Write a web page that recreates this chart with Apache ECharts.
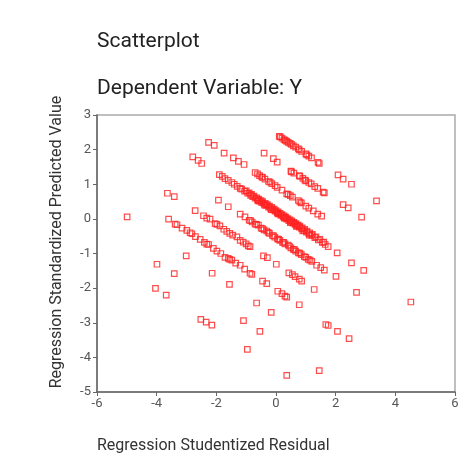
<!DOCTYPE html>
<html>
<head>
<meta charset="utf-8">
<script src="https://cdn.jsdelivr.net/npm/echarts@6/dist/echarts.min.js"></script>
<style>
  html, body { margin: 0; padding: 0; background: #fff; }
  #main { width: 467px; height: 459px; }
</style>
</head>
<body>
<div id="main"></div>
<script>
// residual (x), predicted (y), one list per stripe
var stripeTop = [
  [0.11, 2.38], [0.14, 2.37], [0.20, 2.33], [0.27, 2.29], [0.31, 2.27], [0.36, 2.24], [0.41, 2.21],
  [0.47, 2.18], [0.52, 2.15], [0.58, 2.11], [0.66, 2.07], [0.75, 2.02], [0.78, 1.99], [0.86, 1.95],
  [1.00, 1.88], [1.03, 1.85], [1.10, 1.81], [1.19, 1.76], [1.41, 1.63], [1.45, 1.60],
  [2.08, 1.27], [2.25, 1.15], [2.53, 1.00], [3.37, 0.52]
];
var stripe2 = [
  [-0.40, 1.90], [-0.09, 1.74], [0.04, 1.64], [0.50, 1.38], [0.52, 1.36], [0.60, 1.32],
  [0.78, 1.25], [0.80, 1.23], [0.90, 1.17], [0.97, 1.12], [1.00, 1.10], [1.10, 1.05],
  [1.18, 1.01], [1.30, 0.93], [1.40, 0.88], [1.58, 0.77], [1.62, 0.75], [2.25, 0.41],
  [2.42, 0.32], [2.87, 0.05]
];
var stripe3 = [
  [-2.26, 2.21], [-2.07, 2.12], [-1.74, 1.90], [-1.43, 1.76], [-1.26, 1.66], [-1.07, 1.57],
  [-0.70, 1.34], [-0.62, 1.30], [-0.55, 1.25], [-0.48, 1.21], [-0.45, 1.20], [-0.37, 1.15],
  [-0.25, 1.08], [-0.20, 1.06], [-0.14, 1.02], [-0.03, 0.96], [0.04, 0.91], [0.20, 0.83],
  [0.36, 0.72], [0.41, 0.71], [0.48, 0.67], [0.55, 0.63], [0.75, 0.53], [0.80, 0.49],
  [0.85, 0.46], [1.00, 0.37], [1.10, 0.31], [1.25, 0.23], [1.40, 0.14], [1.53, 0.08]
];
var stripeMain = [
  [-2.79, 1.79], [-2.61, 1.69], [-2.49, 1.60], [-1.90, 1.28], [-1.80, 1.23], [-1.71, 1.16],
  [-1.60, 1.11], [-1.48, 1.05], [-1.40, 1.00], [-1.30, 0.94], [-1.20, 0.88], [-1.15, 0.86],
  [-1.05, 0.80], [-0.95, 0.74], [-0.85, 0.68], [-0.78, 0.64], [-0.70, 0.60], [-0.62, 0.55],
  [-0.55, 0.51], [-0.48, 0.47], [-0.40, 0.43], [-0.33, 0.39], [-0.25, 0.34], [-0.18, 0.30],
  [-0.10, 0.26], [-0.03, 0.22], [0.04, 0.18], [0.10, 0.14], [0.17, 0.10], [0.24, 0.06],
  [0.30, 0.03], [0.36, -0.01], [0.43, -0.05], [0.50, -0.09], [0.57, -0.12], [0.64, -0.16],
  [0.71, -0.20], [0.78, -0.24], [0.86, -0.29], [0.94, -0.34], [1.02, -0.38], [1.10, -0.43],
  [1.20, -0.48], [1.30, -0.54], [1.42, -0.61], [1.55, -0.68], [1.65, -0.74], [1.75, -0.80],
  [2.05, -0.98], [2.53, -1.27], [2.94, -1.49], [4.52, -2.40],
  [-1.00, 0.81], [-0.90, 0.75], [-0.82, 0.71], [-0.74, 0.66], [-0.65, 0.61], [-0.58, 0.57],
  [-0.50, 0.53], [-0.45, 0.50], [-0.36, 0.45], [-0.29, 0.41], [-0.22, 0.37], [-0.14, 0.33],
  [-0.06, 0.28], [0.00, 0.24], [0.07, 0.20], [0.14, 0.16], [0.20, 0.12], [0.27, 0.09],
  [0.33, 0.05], [0.40, 0.01], [0.47, -0.03], [0.53, -0.06], [0.60, -0.10], [0.67, -0.14],
  [0.74, -0.18], [0.80, -0.21], [0.88, -0.26], [0.96, -0.30], [1.04, -0.35], [1.13, -0.40],
  [1.22, -0.45], [1.34, -0.52], [1.47, -0.59], [1.60, -0.67],
  [-0.60, 0.52], [-0.38, 0.40], [-0.16, 0.27], [0.06, 0.15], [0.28, 0.02], [0.48, -0.11],
  [0.68, -0.22], [0.90, -0.35], [1.12, -0.47]
];
var stripe5 = [
  [-1.93, 0.54], [-1.60, 0.35], [-1.20, 0.14], [-1.04, 0.06], [-0.90, -0.04], [-0.80, -0.09],
  [-0.70, -0.15], [-0.59, -0.18], [-0.50, -0.27], [-0.40, -0.32], [-0.31, -0.35], [-0.22, -0.42],
  [-0.12, -0.48], [-0.04, -0.53], [0.05, -0.58], [0.13, -0.62], [0.22, -0.68], [0.30, -0.72],
  [0.41, -0.76], [0.50, -0.84], [0.58, -0.88], [0.66, -0.93], [0.75, -0.98], [0.85, -1.03],
  [0.95, -1.09], [1.08, -1.17], [1.20, -1.23], [1.36, -1.34], [1.50, -1.41], [1.62, -1.48],
  [2.01, -1.66], [2.70, -2.12],
  [-0.85, -0.05], [-0.65, -0.16], [-0.45, -0.28], [-0.26, -0.39], [-0.08, -0.49], [0.09, -0.59],
  [0.26, -0.68], [0.45, -0.79], [0.62, -0.89], [0.80, -0.99], [1.00, -1.11], [1.14, -1.19]
];
var stripe6 = [
  [-3.64, 0.74], [-3.41, 0.64], [-2.71, 0.24], [-2.43, 0.09], [-2.32, 0.02], [-2.21, -0.01],
  [-2.04, -0.14], [-1.98, -0.16], [-1.88, -0.20], [-1.75, -0.30], [-1.65, -0.36], [-1.55, -0.42],
  [-1.45, -0.47], [-1.31, -0.52], [-1.20, -0.62], [-1.10, -0.67], [-1.00, -0.72], [-0.93, -0.78],
  [-0.87, -0.80], [-0.42, -1.07], [-0.29, -1.12], [0.01, -1.31], [0.43, -1.56], [0.55, -1.61],
  [0.64, -1.67], [0.78, -1.74], [0.86, -1.80], [1.28, -2.04]
];
var stripe7 = [
  [-3.60, -0.01], [-3.38, -0.15], [-3.32, -0.17], [-3.15, -0.27], [-2.99, -0.33], [-2.88, -0.40],
  [-2.82, -0.43], [-2.70, -0.51], [-2.54, -0.59], [-2.40, -0.68], [-2.32, -0.73], [-2.26, -0.74],
  [-2.10, -0.85], [-1.98, -0.93], [-1.85, -1.00], [-1.71, -1.11], [-1.60, -1.14], [-1.55, -1.17],
  [-1.48, -1.19], [-1.35, -1.28], [-1.20, -1.34], [-1.05, -1.45], [-0.87, -1.57], [-0.81, -1.60],
  [-0.45, -1.80], [-0.31, -1.87], [0.06, -2.09], [0.20, -2.16], [0.30, -2.23], [0.36, -2.26],
  [0.78, -2.48], [1.67, -3.05], [1.75, -3.08], [2.06, -3.25], [2.45, -3.46]
];
var stripeLow = [
  [-4.99, 0.06], [-3.01, -1.07], [-2.14, -1.57], [-1.56, -1.89], [-0.65, -2.43], [-0.16, -2.70],
  [-3.99, -1.31], [-3.41, -1.58], [-1.09, -2.94], [-0.54, -3.25], [1.45, -4.38],
  [-4.04, -2.01], [-3.68, -2.20], [-2.52, -2.90], [-2.34, -2.98], [-2.15, -3.07], [-0.96, -3.77],
  [0.36, -4.52]
];

var xTicks = { min: -6, max: 6, step: 2 };
var yTicks = { min: -5, max: 3, step: 1 };

var allPoints = [].concat(stripeTop, stripe2, stripe3, stripeMain, stripe5, stripe6, stripe7, stripeLow);

var chart = echarts.init(document.getElementById('main'), null, { renderer: 'canvas' });

var titleFont = { fontFamily: 'Roboto', fontSize: 21, fontWeight: 'normal', color: '#222' };
var labelFont = { fontFamily: 'Roboto', fontSize: 16, fontWeight: 'normal', color: '#333' };

var option = {
  backgroundColor: '#fff',
  animation: false,
  title: [
    { text: 'Scatterplot', left: 97, top: 31, padding: 0, textStyle: titleFont },
    { text: 'Dependent Variable: Y', left: 97, top: 78, padding: 0, textStyle: titleFont },
    { text: 'Regression Studentized Residual', left: 97, top: 438, padding: 0, textStyle: labelFont }
  ],
  graphic: [{
    type: 'text',
    x: 57, y: 242,
    rotation: Math.PI / 2,
    style: {
      text: 'Regression Standardized Predicted Value',
      font: '16px Roboto',
      fill: '#333',
      align: 'center',
      verticalAlign: 'middle'
    }
  }],
  grid: {
    left: 97, right: 12, top: 115, bottom: 67,
    show: true, borderColor: '#aaa', borderWidth: 1.5, backgroundColor: '#fff'
  },
  xAxis: {
    type: 'value',
    min: xTicks.min, max: xTicks.max, interval: xTicks.step,
    axisLine: { show: true, onZero: false, lineStyle: { color: '#666', width: 1.5 } },
    axisTick: { show: true, length: 4, lineStyle: { color: '#666' } },
    splitLine: { show: false },
    axisLabel: { color: '#555', fontFamily: 'Roboto', fontSize: 13, margin: 5 }
  },
  yAxis: {
    type: 'value',
    min: yTicks.min, max: yTicks.max, interval: yTicks.step,
    axisLine: { show: true, onZero: false, lineStyle: { color: '#666', width: 1.5 } },
    axisTick: { show: true, length: 4, lineStyle: { color: '#666' } },
    splitLine: { show: false },
    axisLabel: { color: '#555', fontFamily: 'Roboto', fontSize: 13, margin: 6 }
  },
  series: [{
    type: 'scatter',
    data: allPoints,
    symbol: 'rect',
    symbolSize: 5.5,
    itemStyle: { color: 'transparent', borderColor: '#ff2020', borderWidth: 1.2, opacity: 0.8 }
  }]
};
chart.setOption(option);
</script>
</body>
</html>
